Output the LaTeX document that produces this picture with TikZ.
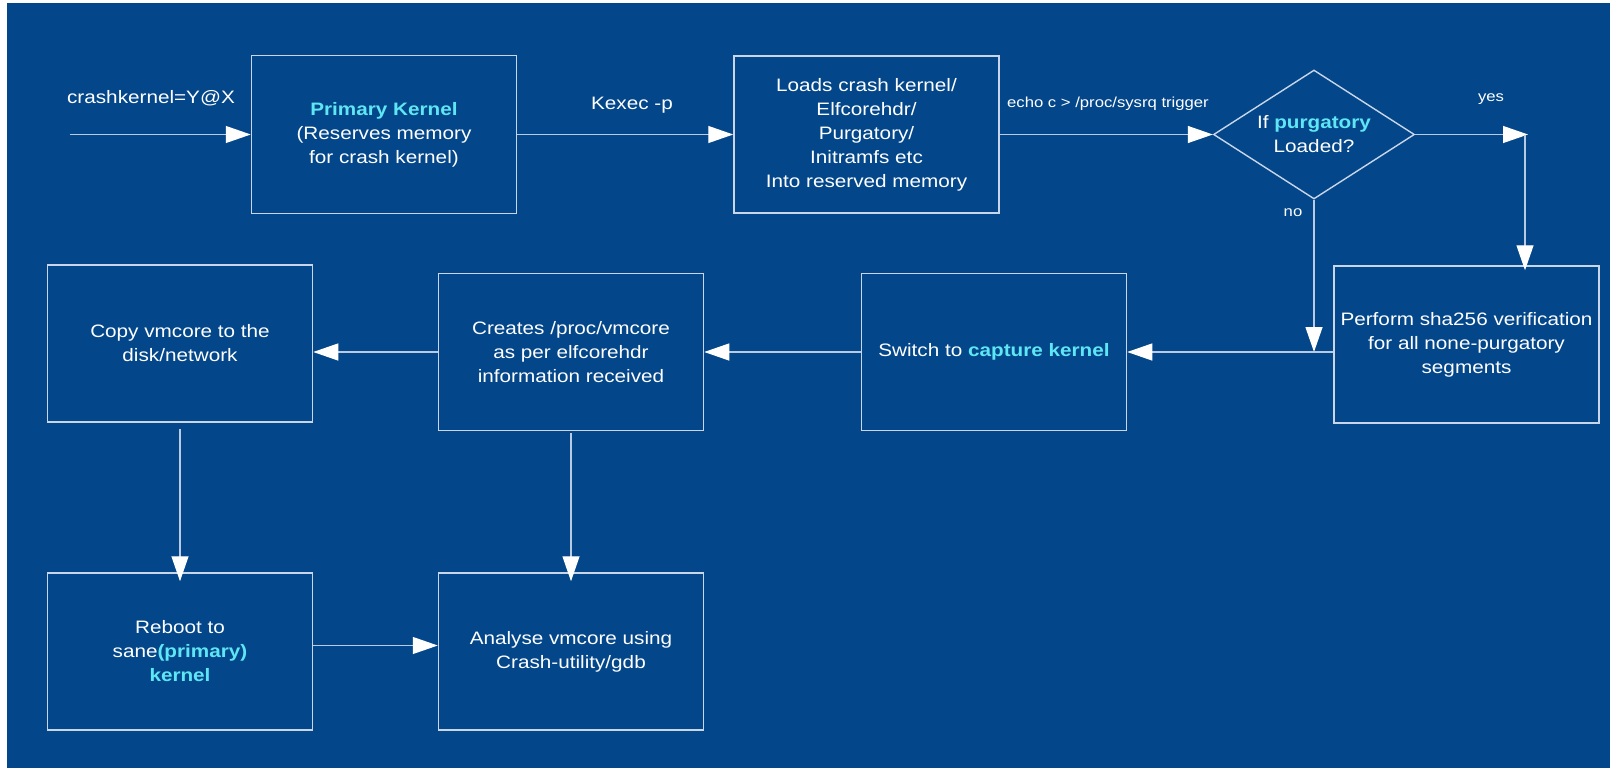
\documentclass[tikz,border=0pt]{standalone}
\usepackage{fontspec}
\setmainfont[FakeStretch=1.15]{Liberation Sans}
\usetikzlibrary{arrows.meta,shapes.geometric}
\definecolor{bgblue}{HTML}{03478A}
\definecolor{hilite}{HTML}{5FE6F4}
\definecolor{edge}{HTML}{C9D6EA}
\definecolor{wire}{HTML}{B9CAE3}
\begin{document}
\begin{tikzpicture}[x=1pt,y=-1pt,
  every node/.style={font=\fontsize{18}{24}\selectfont, text=white},
  stepbox/.style={draw=edge, line width=1.5pt, minimum width=265pt, align=center, inner sep=0pt},
  decision/.style={draw=edge, line width=1.4pt, diamond, inner sep=0pt,
    minimum width=201pt, minimum height=129pt},
  arr/.style={draw=wire, line width=1.3pt, -{Triangle[length=25pt,width=17pt,color=white]}},
  small/.style={font=\fontsize{14.5}{17}\selectfont}]
% canvas
\fill[white] (0,0) rectangle (1610,768);
\fill[bgblue] (7,3) rectangle (1610,768);
\useasboundingbox (0,0) rectangle (1610,768);

% steps
\node[stepbox, minimum height=158pt] (prim) at (384,134.5)
  {\textcolor{hilite}{\textbf{Primary Kernel}}\\(Reserves memory\\for crash kernel)};
\node[stepbox, minimum height=157pt] (loads) at (866.5,134.5)
  {Loads crash kernel/\\Elfcorehdr/\\Purgatory/\\Initramfs etc\\Into reserved memory};
\node[decision] (dec) at (1314,134.5) {};
\node[align=center] (dectext) at (dec.center)
  {If \textcolor{hilite}{\textbf{purgatory}}\\Loaded?};
\node[stepbox, minimum height=157pt] (sha) at (1466.5,344.5)
  {Perform sha256 verification\\for all none-purgatory\\segments};
\node[stepbox, minimum height=157pt] (sw) at (994,352)
  {Switch to \textcolor{hilite}{\textbf{capture kernel}}};
\node[stepbox, minimum height=157pt] (cr) at (571,352)
  {Creates /proc/vmcore\\as per elfcorehdr\\information received};
\node[stepbox, minimum height=157pt] (cp) at (180,343.5)
  {Copy vmcore to the\\disk/network};
\node[stepbox, minimum height=157pt] (rb) at (180,651.5)
  {Reboot to\\sane\textcolor{hilite}{\textbf{(primary)}}\\\textcolor{hilite}{\textbf{kernel}}};
\node[stepbox, minimum height=157pt] (an) at (571,651.5)
  {Analyse vmcore using\\Crash-utility/gdb};

% free ends
\coordinate (start) at (70,134.5);
\coordinate (yesc) at (1528,134.5);

% connectors
\draw[arr] (start) -- (prim.west);
\draw[arr] (prim.east) -- (loads.west);
\draw[arr] (loads.east) -- (dec.west);
\draw[arr] (dec.east) -- (yesc);
\draw[arr, shorten >=-5pt] ([xshift=-3pt]yesc) -- ([xshift=-3pt]yesc |- sha.north);
\draw[arr] (dec.south) -- (dec.south |- sw.east);
\draw[arr] (sha.west |- sw.east) -- (sw.east);
\draw[arr] (sw.west) -- (cr.east);
\draw[arr] (cr.west) -- (cp.east |- cr.west);
\draw[arr, shorten <=6pt, shorten >=-9pt] (cp.south) -- (rb.north);
\draw[arr, shorten <=2pt, shorten >=-9pt] (cr.south) -- (an.north);
\draw[arr] ([yshift=6pt]rb.east) -- ([yshift=6pt]an.west);

% labels
\node (lcrash) at (151,98) {crashkernel=Y@X};
\node (lkexec) at (632,105) {Kexec -p};
\node[small] (lecho) at (1108,104) {echo c > /proc/sysrq trigger};
\node[small] (lyes) at (1491,99) {yes};
\node[small] (lno) at (1293,213) {no};
\end{tikzpicture}
\end{document}
